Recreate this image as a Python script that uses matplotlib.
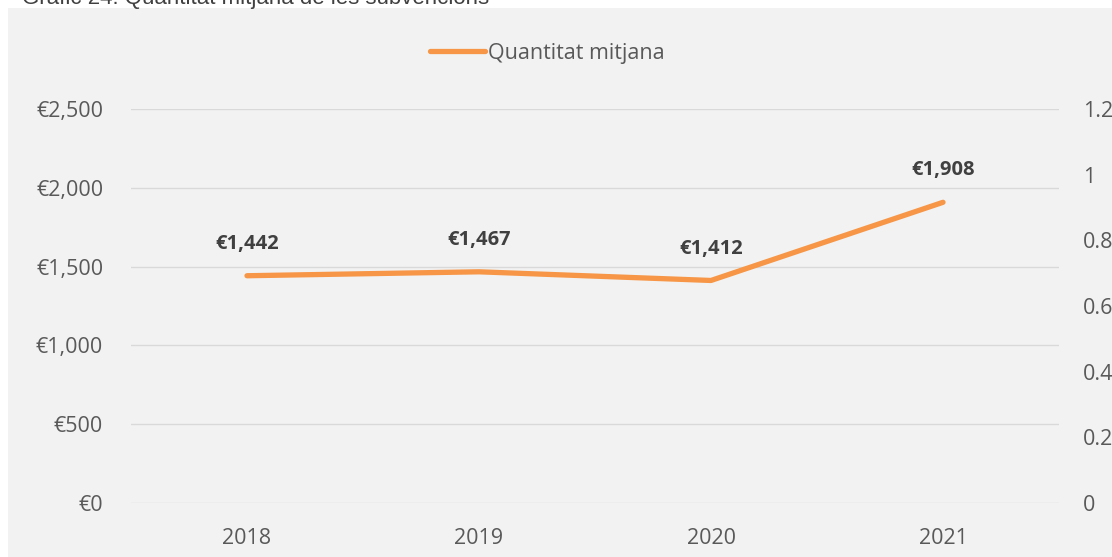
import matplotlib.pyplot as plt
from matplotlib.patches import Rectangle
from matplotlib.ticker import FuncFormatter

years = ['2018', '2019', '2020', '2021']
mitjana = [1442, 1467, 1412, 1908]
etiquetes = ['€1,442', '€1,467', '€1,412', '€1,908']

plt.rcParams['font.family'] = ['Open Sans', 'DejaVu Sans']

fig = plt.figure(figsize=(11.12, 5.57), dpi=100)
W, H = 1112, 557

# fons gris del grafic
fig.patches.append(Rectangle((8 / W, 0), 1 - 8 / W, 1 - 8 / H, transform=fig.transFigure,
                             facecolor='#F2F2F2', edgecolor='none', zorder=-10))

fig.text(22 / W, 1 - 4 / H, 'Gràfic 24: Quantitat mitjana de les subvencions',
         family='Liberation Sans', fontsize=16, color='#404040', va='baseline')

ax = fig.add_axes([131 / W, 1 - 503 / H, 928 / W, 394 / H])
ax.set_facecolor('none')
x = range(len(years))
ax.plot(x, mitjana, color='#F79646', lw=3.8, solid_capstyle='round', label='Quantitat mitjana')

for i, (v, t) in enumerate(zip(mitjana, etiquetes)):
    ax.annotate(t, (i, v), xytext=(0, 23), textcoords='offset points', ha='center',
                va='center', fontsize=14.5, fontweight='bold', color='#404040')

ax.set_xlim(-0.5, 3.5)
ax.set_ylim(0, 2500)
ax.set_yticks(range(0, 2501, 500))
ax.yaxis.set_major_formatter(FuncFormatter(lambda v, p: '€{:,.0f}'.format(v)))
ax.set_xticks(list(x))
ax.set_xticklabels(years)
ax.grid(axis='y', color='#D9D9D9', lw=1)
ax.set_axisbelow(True)
for s in ax.spines.values():
    s.set_visible(False)
ax.tick_params(length=0, labelsize=15.5, labelcolor='#595959')
ax.tick_params(axis='y', pad=20)
ax.tick_params(axis='x', pad=18)

ax2 = ax.twinx()
ax2.set_ylim(0, 1.2)
ax2.set_yticks([0, 0.2, 0.4, 0.6, 0.8, 1, 1.2])
ax2.set_yticklabels(['0', '0.2', '0.4', '0.6', '0.8', '1', '1.2'])
for s in ax2.spines.values():
    s.set_visible(False)
ax2.tick_params(length=0, labelsize=15.5, labelcolor='#595959', pad=17)

leg = ax.legend(loc='center', bbox_to_anchor=(0.449, (503 - 53) / 394), frameon=False,
                fontsize=15.5, labelcolor='#595959', handlelength=2.55, handletextpad=0.15,
                borderpad=0, borderaxespad=0)

fig.savefig('out.png', dpi=100)
